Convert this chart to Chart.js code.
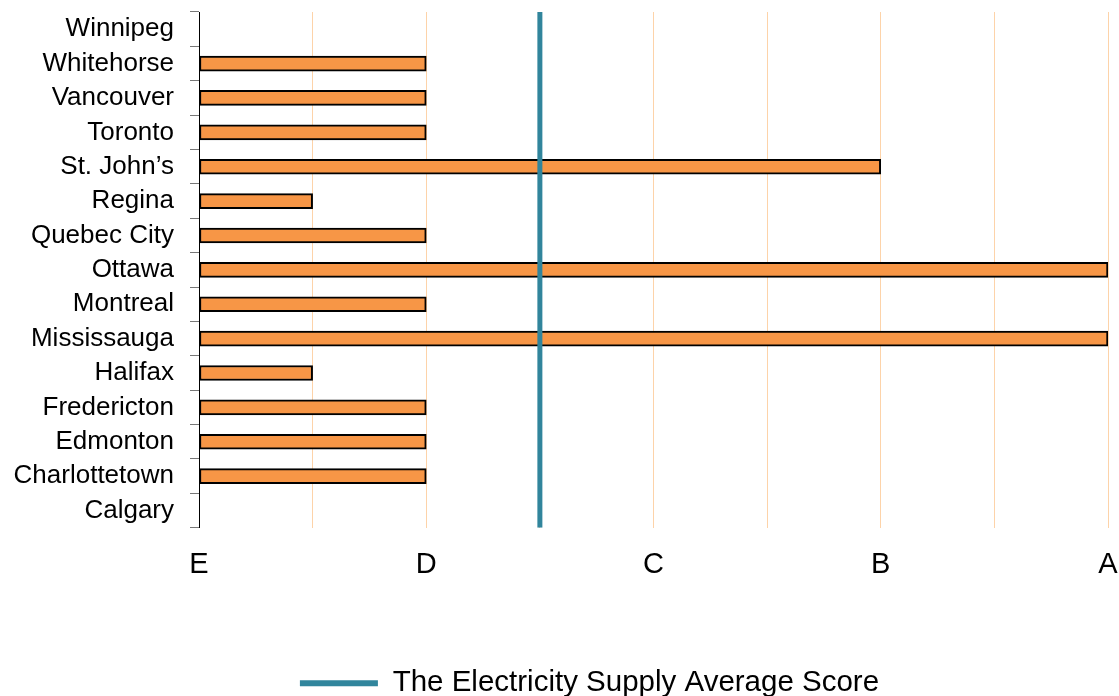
<!DOCTYPE html>
<html>
<head>
<meta charset="utf-8">
<script src="https://cdn.jsdelivr.net/npm/chart.js@4/dist/chart.umd.min.js"></script>
<style>
  html, body { margin: 0; padding: 0; background: #fff; }
  #wrap { width: 1119px; height: 696px; }
</style>
</head>
<body>
<div id="wrap"><canvas id="scoreChart" width="1119" height="696"></canvas></div>
<script>
// data
const cities = ["Winnipeg", "Whitehorse", "Vancouver", "Toronto", "St. John\u2019s", "Regina",
  "Quebec City", "Ottawa", "Montreal", "Mississauga", "Halifax", "Fredericton",
  "Edmonton", "Charlottetown", "Calgary"];
const scores = [0, 2, 2, 2, 6, 1, 2, 8, 2, 8, 1, 2, 2, 2, null];
const gradeLabels = ["E", "", "D", "", "C", "", "B", "", "A"];
const averageScore = 3;
const averageLabel = "The Electricity Supply Average Score";

const FONT = "'Liberation Sans', Arial, sans-serif";
const ORANGE = "#f79646";
const TEAL = "#31859c";

// the legend in the picture sits a bit right of centre
const legendShift = {
  id: "legendShift",
  afterLayout(chart) {
    chart.legend.left += 30;
    chart.legend.right += 30;
  },
};

const ctx = document.getElementById("scoreChart").getContext("2d");
new Chart(ctx, {
  type: "bar",
  data: {
    labels: cities,
    datasets: [
      {
        type: "bar",
        label: "Score",
        data: scores,
        backgroundColor: ORANGE,
        borderColor: "#000",
        borderWidth: 2,
        borderSkipped: false,
        barThickness: 15,
        grouped: false,
        order: 1,
        xAxisID: "x",
        yAxisID: "y",
      },
      {
        type: "line",
        label: averageLabel,
        data: [{ x: averageScore, y: 0 }, { x: averageScore, y: 1 }],
        borderColor: TEAL,
        backgroundColor: TEAL,
        borderWidth: 5,
        pointRadius: 0,
        order: 0,
        xAxisID: "x",
        yAxisID: "yLine",
      },
    ],
  },
  options: {
    indexAxis: "y",
    responsive: false,
    animation: false,
    layout: { padding: { left: 11, right: 11, top: 12, bottom: -12 } },
    scales: {
      x: {
        type: "linear",
        min: 0,
        max: 8,
        ticks: {
          stepSize: 1,
          autoSkip: false,
          maxRotation: 0,
          padding: 20,
          color: "#000",
          font: { family: FONT, size: 29 },
          callback: (v) => gradeLabels[v],
        },
        grid: { color: "#fdd3a9", lineWidth: 1, drawTicks: false },
        border: { display: false },
        afterFit: (scale) => {
          scale.height += 66;
          scale.paddingLeft = 0;
          scale.paddingRight = 0;
        },
      },
      y: {
        type: "category",
        ticks: {
          autoSkip: false,
          padding: 16,
          color: "#000",
          font: { family: FONT, size: 26 },
        },
        grid: { drawOnChartArea: false, tickLength: 9, color: "#777", offset: true },
        border: { display: true, color: "#000", width: 1 },
        afterFit: (scale) => {
          scale.width = 188;
          scale.paddingTop = 0;
          scale.paddingBottom = 0;
        },
      },
      yLine: {
        type: "linear",
        display: false,
        offset: false,
        min: 0,
        max: 1,
      },
    },
    plugins: {
      tooltip: { enabled: false },
      legend: {
        position: "bottom",
        labels: {
          color: "#000",
          font: { family: FONT, size: 29.5 },
          boxWidth: 78,
          boxHeight: 6,
          padding: 0,
          generateLabels: () => [{
            text: averageLabel,
            fillStyle: TEAL,
            strokeStyle: TEAL,
            lineWidth: 0,
            datasetIndex: 1,
          }],
        },
      },
    },
  },
  plugins: [legendShift],
});
</script>
</body>
</html>
